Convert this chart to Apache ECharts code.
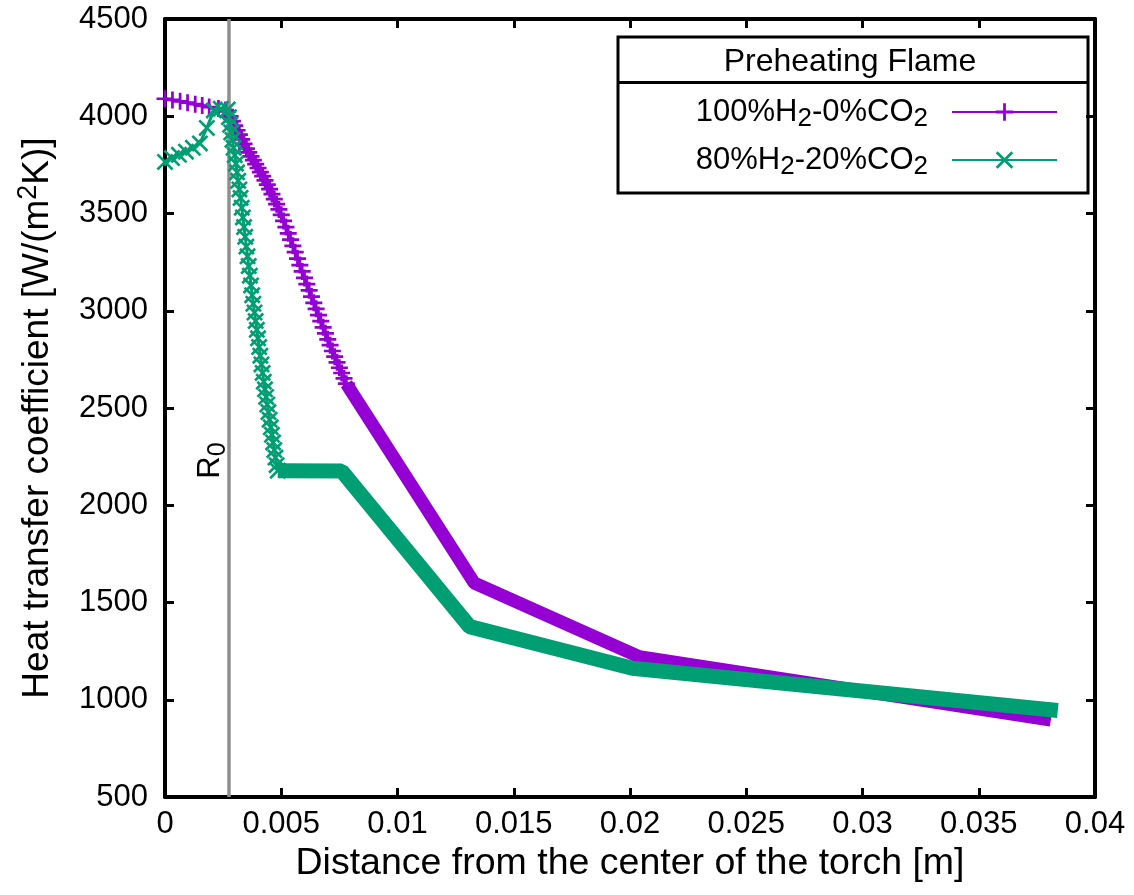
<!DOCTYPE html>
<html><head><meta charset="utf-8">
<script src="https://cdn.jsdelivr.net/npm/echarts@6/dist/echarts.min.js"></script>
<style>html,body{margin:0;padding:0;background:#fff}#c{width:1134px;height:895px}</style>
</head><body><div id="c"></div>
<script>
// ---- data ----
const xAxisMin = 0, xAxisMax = 0.04, xAxisStep = 0.005;
const yAxisMin = 500, yAxisMax = 4500, yAxisStep = 500;
const r0Position = 0.00275;
const seriesNames = ['100%H{sub|2}-0%CO{sub|2}', '80%H{sub|2}-20%CO{sub|2}'];
const legendTitle = 'Preheating Flame';

// 100%H2-0%CO2 : sparse part (individual markers visible)
const pureNearX = [0,0.00032,0.00065,0.00097,0.0013,0.0016,0.0019,0.0023,0.0026,0.0027,
  0.0028,0.0029,0.003,0.0031,0.0032,0.0033,0.0034,0.0035,0.0036,0.0037,0.0038,0.0039,0.004,
  0.0041,0.0042,0.0043,0.0044,0.0045,0.0046,0.0047,0.0048,0.0049,0.005,0.0051,0.0052,0.0053,
  0.0054,0.0055,0.0056,0.0057,0.0058,0.0059,0.006,0.0061,0.0062,0.0063,0.0064,0.0065,0.0066,
  0.0067,0.0068,0.0069,0.007,0.0071,0.0072,0.0073,0.0074,0.0075,0.0076,0.0077,0.0078];
const pureNearY = [4090,4084,4077,4070,4062,4055,4047,4040,4032,4025,
  3999,3975,3952,3928,3905,3881,3858,3834,3814,3794,3774,3754,3734,
  3713,3692,3670,3648,3625,3600,3574,3548,3521,3493,3462,3430,3398,
  3366,3334,3301,3268,3235,3202,3169,3137,3105,3073,3041,3010,2978,
  2947,2915,2884,2853,2823,2793,2764,2735,2707,2680,2652,2625];
// 100%H2-0%CO2 : dense part (markers merge into a band)
const pureFarX = [0.0078,0.0133,0.0204,0.0381];
const pureFarY = [2625,1600,1221,895];

// 80%H2-20%CO2 : sparse part
const blendNearX = [0,0.0003,0.0006,0.0009,0.0012,0.0015,0.0018,0.0021,0.0024,0.0027,
  0.00275,0.0028,0.00285,0.0029,0.00295,0.003,0.00305,0.0031,0.00315,0.0032,0.00325,
  0.0033,0.00335,0.0034,0.00345,0.0035,0.00355,0.0036,0.00365,0.0037,0.00375,
  0.0038,0.00385,0.0039,0.00395,0.004,0.00405,0.0041,0.00415,0.0042,0.00425,
  0.0043,0.00435,0.0044,0.00445,0.0045,0.00455,0.0046,0.00465,0.0047,0.00475,
  0.0048,0.00485];
const blendNearY = [3765,3785,3802,3818,3838,3860,3940,4030,4038,4035,
  3995,3956,3917,3878,3838,3800,3756,3712,3668,3624,3580,
  3530,3480,3430,3380,3330,3280,3230,3180,3130,3080,
  3036,2991,2947,2902,2858,2813,2769,2724,2680,2635,
  2596,2557,2518,2479,2440,2401,2362,2323,2284,2245,
  2206,2178];
// 80%H2-20%CO2 : dense part
const blendFarX = [0.00485,0.0076,0.0131,0.0201,0.0384];
const blendFarY = [2178,2176,1376,1162,945];

// ---- styling ----
const PURPLE = '#9400d3', GREEN = '#009e73';
const FONT = 'Liberation Sans, Arial, Helvetica, sans-serif';
const plusPath = 'path://M0,42L100,42L100,58L0,58Z M42,0L58,0L58,100L42,100Z';
const crossPath = 'path://M0,11L11,0L50,39L89,0L100,11L61,50L100,89L89,100L50,61L11,100L0,89L39,50Z';

function zip(xs, ys) { const n = Math.min(xs.length, ys.length); const o = []; for (let i = 0; i < n; i++) o.push([xs[i], ys[i]]); return o; }

const chart = echarts.init(document.getElementById('c'), null, {renderer: 'canvas'});
const axisLineStyle = {color: '#000', width: 4};
const tickStyle = {show: true, inside: true, length: 9, lineStyle: {color: '#000', width: 3}};

const option = {
  animation: false,
  backgroundColor: '#fff',
  textStyle: {fontFamily: FONT},
  grid: {left: 165, right: 39, top: 19, bottom: 98, containLabel: false},
  xAxis: [{
    type: 'value', min: xAxisMin, max: xAxisMax, interval: xAxisStep, position: 'bottom',
    axisLine: {show: true, onZero: false, lineStyle: axisLineStyle},
    axisTick: tickStyle, splitLine: {show: false},
    axisLabel: {fontSize: 31, color: '#000', margin: 12, fontFamily: FONT, formatter: v => String(v)},
    name: 'Distance from the center of the torch [m]', nameLocation: 'middle', nameGap: 45,
    nameTextStyle: {fontSize: 37.5, color: '#000', fontFamily: FONT}
  }, {
    type: 'value', min: xAxisMin, max: xAxisMax, interval: xAxisStep, position: 'top',
    axisLine: {show: true, onZero: false, lineStyle: axisLineStyle},
    axisTick: tickStyle, axisLabel: {show: false}, splitLine: {show: false}
  }],
  yAxis: [{
    type: 'value', min: yAxisMin, max: yAxisMax, interval: yAxisStep, position: 'left',
    axisLine: {show: true, onZero: false, lineStyle: axisLineStyle},
    axisTick: tickStyle, splitLine: {show: false},
    axisLabel: {fontSize: 31, color: '#000', margin: 17, fontFamily: FONT, formatter: v => String(v)},
    name: 'Heat transfer coefficient [W/(m{sup|2}K)]', nameLocation: 'middle', nameGap: 104, nameRotate: 90,
    nameTextStyle: {fontSize: 37, color: '#000', fontFamily: FONT, lineHeight: 46, padding: [0, 20, 0, 0],
      rich: {sup: {fontSize: 27, fontFamily: FONT, color: '#000', lineHeight: 28, verticalAlign: 'top'}}}
  }, {
    type: 'value', min: yAxisMin, max: yAxisMax, interval: yAxisStep, position: 'right',
    axisLine: {show: true, onZero: false, lineStyle: axisLineStyle},
    axisTick: tickStyle, axisLabel: {show: false}, splitLine: {show: false}
  }],
  legend: {
    data: seriesNames, orient: 'vertical', right: 76, top: 92, align: 'right', padding: 0,
    itemWidth: 105, itemHeight: 22, itemGap: 8, selectedMode: false,
    formatter: n => n,
    textStyle: {fontSize: 31, color: '#000', fontFamily: FONT, lineHeight: 40, padding: [0, 19, 0, 0],
      rich: {sub: {fontSize: 26, fontFamily: FONT, color: '#000', lineHeight: 22, verticalAlign: 'bottom'}}}
  },
  series: [
    {
      name: 'bandPure', type: 'line', data: zip(pureFarX, pureFarY), showSymbol: false, symbol: 'none',
      lineStyle: {color: PURPLE, width: 13}, z: 2, silent: true,
      markLine: {
        silent: true, symbol: ['none', 'none'], label: {show: false},
        lineStyle: {color: '#8f8f8f', width: 3.5, type: 'solid'},
        data: [[{coord: [r0Position, yAxisMin]}, {coord: [r0Position, yAxisMax]}]]
      }
    },
    {
      name: seriesNames[0], type: 'line', data: zip(pureNearX, pureNearY),
      symbol: plusPath, symbolSize: 17, symbolKeepAspect: true,
      itemStyle: {color: PURPLE}, lineStyle: {color: PURPLE, width: 3}, z: 3
    },
    {
      name: 'bandBlend', type: 'line', data: zip(blendFarX, blendFarY), showSymbol: false, symbol: 'none',
      lineStyle: {color: GREEN, width: 15}, z: 4, silent: true
    },
    {
      name: seriesNames[1], type: 'line', data: zip(blendNearX, blendNearY),
      symbol: crossPath, symbolSize: 17, symbolKeepAspect: true,
      itemStyle: {color: GREEN}, lineStyle: {color: GREEN, width: 3}, z: 5
    }
  ]
};
chart.setOption(option);

// legend box, title and R0 label
const r0Px = chart.convertToPixel({xAxisIndex: 0, yAxisIndex: 0}, [r0Position, 2230]);
chart.setOption({
  graphic: [
    {type: 'rect', id: 'lgBox', shape: {x: 618, y: 37, width: 470, height: 156},
      style: {fill: 'none', stroke: '#000', lineWidth: 3}, z: 10},
    {type: 'line', id: 'lgSep', shape: {x1: 618, y1: 82.5, x2: 1088, y2: 82.5},
      style: {stroke: '#000', lineWidth: 3}, z: 10},
    {type: 'text', id: 'lgTitle', x: 850, y: 62,
      style: {text: legendTitle, font: '32px ' + FONT, fill: '#000', align: 'center', verticalAlign: 'middle'}, z: 10},
    {type: 'text', id: 'r0', x: r0Px[0] - 18, y: r0Px[1], rotation: Math.PI / 2,
      style: {text: 'R{sub|0}', font: '31px ' + FONT, fill: '#000', align: 'center', verticalAlign: 'middle',
        lineHeight: 40, rich: {sub: {font: '25px ' + FONT, fill: '#000', lineHeight: 22, verticalAlign: 'bottom'}}}, z: 10}
  ]
});
</script></body></html>
